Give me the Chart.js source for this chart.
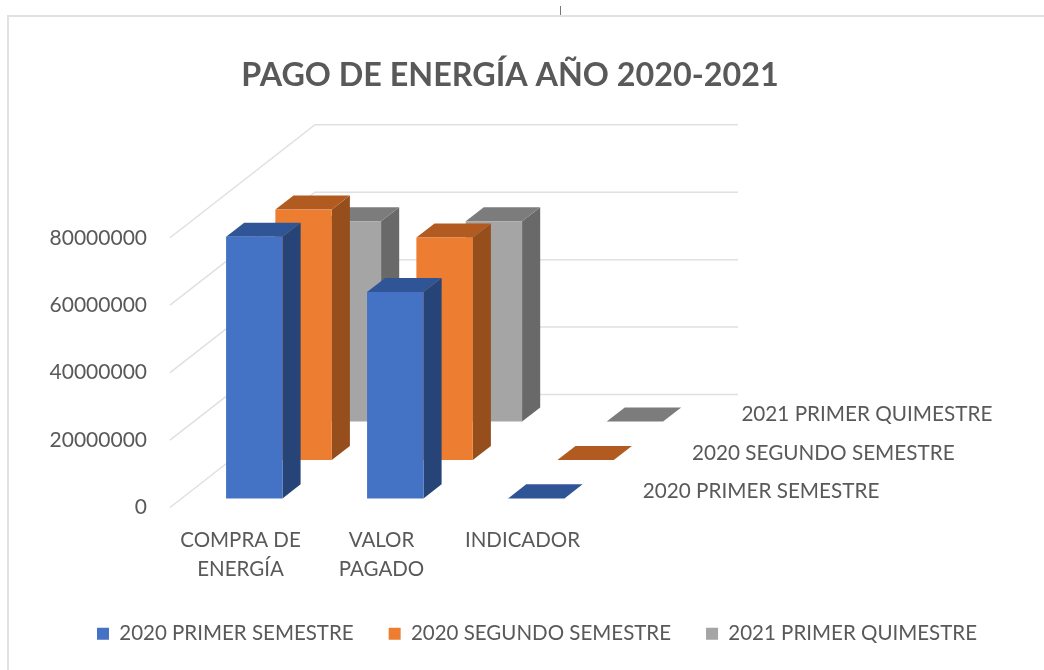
<!DOCTYPE html>
<html>
<head>
<meta charset="utf-8">
<title>Pago de energía</title>
<script src="https://cdn.jsdelivr.net/npm/chart.js@4/dist/chart.umd.min.js"></script>
<style>
  html, body { margin: 0; padding: 0; background: #fff; }
  #wrap { position: relative; width: 1044px; height: 670px; overflow: hidden; }
  #myChart { position: absolute; left: 0; top: 0; filter: blur(0.45px); }
  #frame { position: absolute; left: 7px; top: 15px; width: 1040px; height: 660px; border-left: 2px solid #e2e2e2; border-top: 2px solid #e2e2e2; }
  #mark { position: absolute; left: 560px; top: 6px; width: 1px; height: 9px; background: #777; }
</style>
</head>
<body>
<div id="wrap">
  <div id="frame"></div>
  <div id="mark"></div>
  <canvas id="myChart" width="1044" height="670"></canvas>
</div>
<script>
const categories = [['COMPRA DE', 'ENERGÍA'], ['VALOR', 'PAGADO'], 'INDICADOR'];
const seriesNames = ['2020 PRIMER SEMESTRE', '2020 SEGUNDO SEMESTRE', '2021 PRIMER QUIMESTRE'];
const primerSemestre = [77600000, 61200000, 1];
const segundoSemestre = [74300000, 66000000, 1];
const primerQuimestre = [59400000, 59400000, 1];
const frontColors = ['#4472C4', '#ED7D31', '#A5A5A5'];
const topColors = ['#305596', '#B25B20', '#7C7C7C'];
const sideColors = ['#264478', '#964F1C', '#696969'];

const textColor = '#595959';
const fontName = 'Lato';
// how far the back wall sits from the front plane
const depthX = 145;
const depthY = -113;
const barDepth = 0.125;
const firstRowX = 0.095;
const firstRowY = 0.08;
const rowStep = 0.34;

function poly(ctx, color, pts) {
    ctx.fillStyle = color;
    ctx.beginPath();
    ctx.moveTo(pts[0][0], pts[0][1]);
    for (let p of pts) {
        ctx.lineTo(p[0], p[1]);
    }
    ctx.closePath();
    ctx.fill();
}

const box3d = {
    id: 'box3d',
    afterLayout(chart) {
        // title and legend do not share a centre in the reference
        chart.titleBlock.left -= 32;
        chart.titleBlock.right -= 32;
        chart.legend.left += 22;
    },
    beforeDatasetsDraw(chart) {
        // walls
        const ctx = chart.ctx;
        const area = chart.chartArea;
        ctx.save();
        ctx.strokeStyle = '#e0e0e0';
        ctx.lineWidth = 1.5;
        for (let tick of chart.scales.y.ticks) {
            const y = chart.scales.y.getPixelForValue(tick.value);
            ctx.beginPath();
            ctx.moveTo(area.left, y);
            ctx.lineTo(area.left + depthX, y + depthY);
            ctx.lineTo(area.right + depthX, y + depthY);
            ctx.stroke();
        }
        ctx.restore();
    },
    beforeDatasetDraw(chart, args) {
        const ctx = chart.ctx;
        const i = args.index;
        const ox = depthX * (firstRowX + i * rowStep);
        const oy = depthY * (firstRowY + i * rowStep);
        const dx = depthX * barDepth;
        const dy = depthY * barDepth;
        for (let bar of args.meta.data) {
            const l = bar.x - bar.width / 2 + ox;
            const r = bar.x + bar.width / 2 + ox;
            const t = bar.y + oy;
            const b = bar.base + oy;
            poly(ctx, sideColors[i], [[r, t], [r + dx, t + dy], [r + dx, b + dy], [r, b]]);
            poly(ctx, topColors[i], [[l, t], [l + dx, t + dy], [r + dx, t + dy], [r, t]]);
            poly(ctx, frontColors[i], [[l, t], [r, t], [r, b], [l, b]]);
        }
        return false;
    },
    afterDatasetsDraw(chart) {
        // series names along the depth axis
        const ctx = chart.ctx;
        const area = chart.chartArea;
        ctx.save();
        ctx.font = '20.7px ' + fontName;
        ctx.fillStyle = textColor;
        ctx.textAlign = 'left';
        ctx.textBaseline = 'middle';
        seriesNames.forEach((name, i) => {
            const x = area.right + depthX * (firstRowX + i * rowStep) + 36;
            const y = area.bottom + depthY * (firstRowY + i * rowStep) - 7;
            ctx.fillText(name, x, y);
        });
        ctx.restore();
    }
};

const ctx = document.getElementById('myChart').getContext('2d');
new Chart(ctx, {
    type: 'bar',
    data: {
        labels: categories,
        datasets: [
            { label: seriesNames[0], data: primerSemestre, backgroundColor: frontColors[0], grouped: false },
            { label: seriesNames[1], data: segundoSemestre, backgroundColor: frontColors[1], grouped: false },
            { label: seriesNames[2], data: primerQuimestre, backgroundColor: frontColors[2], grouped: false }
        ]
    },
    options: {
        responsive: false,
        animation: false,
        barPercentage: 0.4,
        categoryPercentage: 1,
        layout: { padding: { left: 40, right: 0, top: 0, bottom: 16 } },
        plugins: {
            title: {
                display: true,
                text: 'PAGO DE ENERGÍA AÑO 2020-2021',
                color: textColor,
                font: { family: fontName, size: 32.3, weight: 'bold' },
                padding: { top: 56, bottom: 143 }
            },
            legend: {
                position: 'bottom',
                align: 'start',
                labels: {
                    color: textColor,
                    font: { family: fontName, size: 20.5 },
                    boxWidth: 12,
                    boxHeight: 12,
                    padding: 35
                }
            },
            tooltip: { enabled: false }
        },
        scales: {
            x: {
                grid: { display: false },
                border: { display: false },
                ticks: { color: textColor, font: { family: fontName, size: 20.5, lineHeight: 1.4 }, padding: 11, maxRotation: 0 },
                afterFit(scale) { scale.height = 81; }
            },
            y: {
                min: 0,
                max: 80000000,
                grid: { display: false, drawTicks: false },
                border: { display: false },
                ticks: {
                    stepSize: 20000000,
                    color: textColor,
                    font: { family: fontName, size: 21 },
                    padding: 23,
                    callback: value => String(value)
                },
                afterFit(scale) { scale.width = 130; }
            },
            // empty axis that holds the room for the depth of the chart
            depth: {
                position: 'right',
                grid: { display: false },
                border: { display: false },
                ticks: { display: false },
                afterFit(scale) { scale.width = 451; }
            }
        }
    },
    plugins: [box3d]
});
</script>
</body>
</html>
